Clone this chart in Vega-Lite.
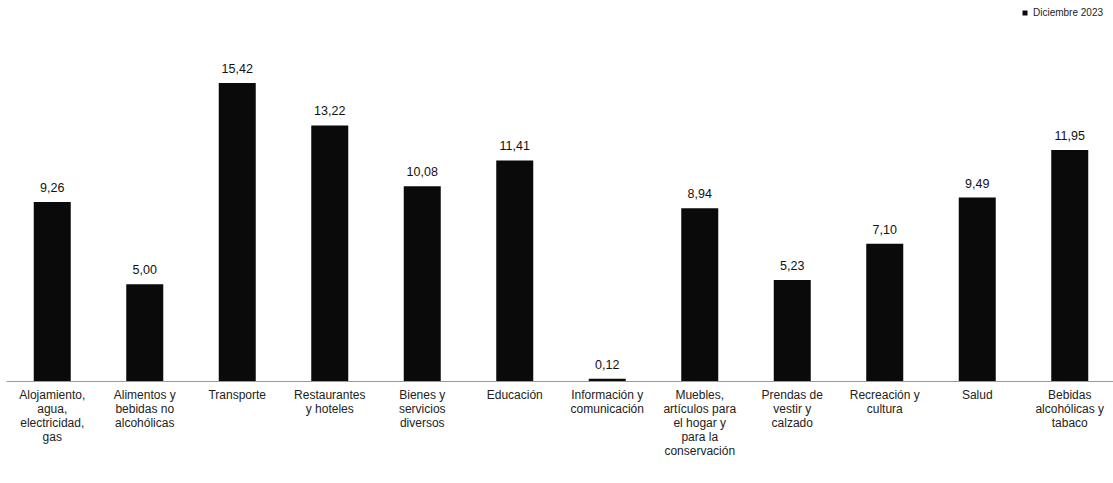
{
  "$schema": "https://vega.github.io/schema/vega-lite/v6.json",
  "width": 1110,
  "height": 381,
  "padding": {"left": 6, "top": 0, "right": 0, "bottom": 0},
  "autosize": {"type": "pad"},
  "background": "white",
  "config": {
    "view": {"stroke": null},
    "font": "Liberation Sans",
    "locale": {"number": {"decimal": ",", "thousands": ".", "grouping": [3], "currency": ["", " €"]}}
  },
  "data": {
    "values": [
      {"cat": "Alojamiento,|agua,|electricidad,|gas", "valor": 9.26, "periodo": "Diciembre 2023"},
      {"cat": "Alimentos y|bebidas no|alcohólicas", "valor": 5.00, "periodo": "Diciembre 2023"},
      {"cat": "Transporte", "valor": 15.42, "periodo": "Diciembre 2023"},
      {"cat": "Restaurantes|y hoteles", "valor": 13.22, "periodo": "Diciembre 2023"},
      {"cat": "Bienes y|servicios|diversos", "valor": 10.08, "periodo": "Diciembre 2023"},
      {"cat": "Educación", "valor": 11.41, "periodo": "Diciembre 2023"},
      {"cat": "Información y|comunicación", "valor": 0.12, "periodo": "Diciembre 2023"},
      {"cat": "Muebles,|artículos para|el hogar y|para la|conservación", "valor": 8.94, "periodo": "Diciembre 2023"},
      {"cat": "Prendas de|vestir y|calzado", "valor": 5.23, "periodo": "Diciembre 2023"},
      {"cat": "Recreación y|cultura", "valor": 7.10, "periodo": "Diciembre 2023"},
      {"cat": "Salud", "valor": 9.49, "periodo": "Diciembre 2023"},
      {"cat": "Bebidas|alcohólicas y|tabaco", "valor": 11.95, "periodo": "Diciembre 2023"}
    ]
  },
  "encoding": {
    "x": {
      "field": "cat", "type": "nominal", "sort": null,
      "scale": {"paddingInner": 0.6, "paddingOuter": 0.3},
      "axis": {
        "title": null, "labelAngle": 0, "ticks": false,
        "labelExpr": "split(datum.label, '|')",
        "labelFontSize": 12, "labelColor": "#222", "labelLineHeight": 14,
        "labelPadding": 8, "labelLimit": 200,
        "domainColor": "#999", "domainWidth": 1
      }
    },
    "y": {
      "field": "valor", "type": "quantitative",
      "scale": {"domain": [0, 19.71], "nice": false},
      "axis": null
    }
  },
  "layer": [
    {
      "mark": {"type": "bar", "color": "#0a0a0a"},
      "encoding": {
        "color": {
          "field": "periodo", "type": "nominal",
          "scale": {"range": ["#0a0a0a"]},
          "legend": {
            "title": null, "orient": "none", "legendX": 1014, "legendY": 8,
            "symbolType": "square", "symbolSize": 25, "labelFontSize": 10,
            "labelColor": "#222", "symbolStrokeWidth": 0, "labelOffset": 3
          }
        }
      }
    },
    {
      "mark": {"type": "text", "baseline": "bottom", "dy": -7, "fontSize": 12.5, "color": "#111"},
      "encoding": {
        "text": {"field": "valor", "type": "quantitative", "format": ".2f"}
      }
    }
  ]
}
